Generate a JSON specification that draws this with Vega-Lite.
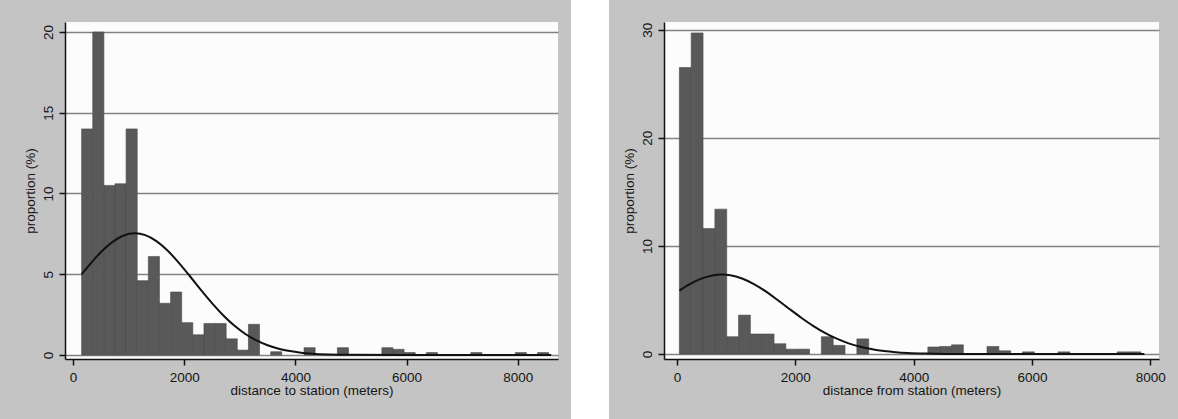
{
  "$schema": "https://vega.github.io/schema/vega-lite/v6.json",
  "background": "#c4c4c4",
  "padding": {"left": 22, "right": 15, "top": 0, "bottom": 0},
  "spacing": 13,
  "center": true,
  "config": {
    "font": "Liberation Sans",
    "axis": {
      "labelFont": "Liberation Sans", "titleFont": "Liberation Sans",
      "labelFontSize": 13.5, "titleFontSize": 13.5, "titleFontWeight": "normal",
      "labelColor": "#151515", "titleColor": "#151515",
      "domainColor": "#111", "domainWidth": 1.5, "tickColor": "#111", "tickWidth": 1.5
    }
  },
  "datasets": {
    "leftBars": [
      {"x0": 155, "x1": 355, "pct": 14},
      {"x0": 355, "x1": 555, "pct": 20},
      {"x0": 555, "x1": 755, "pct": 10.5},
      {"x0": 755, "x1": 955, "pct": 10.6},
      {"x0": 955, "x1": 1155, "pct": 14},
      {"x0": 1155, "x1": 1355, "pct": 4.6},
      {"x0": 1355, "x1": 1555, "pct": 6.1},
      {"x0": 1555, "x1": 1755, "pct": 3.2},
      {"x0": 1755, "x1": 1955, "pct": 3.9},
      {"x0": 1955, "x1": 2155, "pct": 2.0},
      {"x0": 2155, "x1": 2355, "pct": 1.25},
      {"x0": 2355, "x1": 2555, "pct": 1.95},
      {"x0": 2555, "x1": 2755, "pct": 1.95},
      {"x0": 2755, "x1": 2955, "pct": 1.0},
      {"x0": 2955, "x1": 3155, "pct": 0.3},
      {"x0": 3155, "x1": 3355, "pct": 1.9},
      {"x0": 3555, "x1": 3755, "pct": 0.2},
      {"x0": 4155, "x1": 4355, "pct": 0.45},
      {"x0": 4755, "x1": 4955, "pct": 0.45},
      {"x0": 5555, "x1": 5755, "pct": 0.45},
      {"x0": 5755, "x1": 5955, "pct": 0.35},
      {"x0": 5955, "x1": 6155, "pct": 0.15},
      {"x0": 6355, "x1": 6555, "pct": 0.15},
      {"x0": 7155, "x1": 7355, "pct": 0.15},
      {"x0": 7955, "x1": 8155, "pct": 0.15},
      {"x0": 8355, "x1": 8555, "pct": 0.15}
    ],
    "leftCurve": [
      {"x": 155, "pct": 5.0},
      {"x": 300, "pct": 5.6},
      {"x": 500, "pct": 6.36},
      {"x": 700, "pct": 6.97},
      {"x": 900, "pct": 7.38},
      {"x": 1115, "pct": 7.53},
      {"x": 1300, "pct": 7.42},
      {"x": 1500, "pct": 7.05},
      {"x": 1700, "pct": 6.47},
      {"x": 1900, "pct": 5.72},
      {"x": 2100, "pct": 4.89},
      {"x": 2300, "pct": 4.03},
      {"x": 2500, "pct": 3.21},
      {"x": 2700, "pct": 2.46},
      {"x": 2900, "pct": 1.82},
      {"x": 3100, "pct": 1.3},
      {"x": 3300, "pct": 0.9},
      {"x": 3500, "pct": 0.6},
      {"x": 3700, "pct": 0.385},
      {"x": 3900, "pct": 0.239},
      {"x": 4100, "pct": 0.143},
      {"x": 4300, "pct": 0.082},
      {"x": 4600, "pct": 0.034},
      {"x": 5000, "pct": 0.009},
      {"x": 6000, "pct": 0.0},
      {"x": 8600, "pct": 0.0}
    ],
    "rightBars": [
      {"x0": 40, "x1": 240, "pct": 26.5},
      {"x0": 240, "x1": 440, "pct": 29.7},
      {"x0": 440, "x1": 640, "pct": 11.6},
      {"x0": 640, "x1": 840, "pct": 13.4},
      {"x0": 840, "x1": 1040, "pct": 1.6},
      {"x0": 1040, "x1": 1240, "pct": 3.6},
      {"x0": 1240, "x1": 1440, "pct": 1.85},
      {"x0": 1440, "x1": 1640, "pct": 1.85},
      {"x0": 1640, "x1": 1840, "pct": 0.95},
      {"x0": 1840, "x1": 2040, "pct": 0.45},
      {"x0": 2040, "x1": 2240, "pct": 0.45},
      {"x0": 2440, "x1": 2640, "pct": 1.6},
      {"x0": 2640, "x1": 2840, "pct": 0.8},
      {"x0": 3040, "x1": 3240, "pct": 1.4},
      {"x0": 4240, "x1": 4440, "pct": 0.65},
      {"x0": 4440, "x1": 4640, "pct": 0.7},
      {"x0": 4640, "x1": 4840, "pct": 0.85},
      {"x0": 5240, "x1": 5440, "pct": 0.7},
      {"x0": 5440, "x1": 5640, "pct": 0.3},
      {"x0": 5840, "x1": 6040, "pct": 0.2},
      {"x0": 6440, "x1": 6640, "pct": 0.2},
      {"x0": 7440, "x1": 7640, "pct": 0.2},
      {"x0": 7640, "x1": 7840, "pct": 0.2}
    ],
    "rightCurve": [
      {"x": 40, "pct": 5.86},
      {"x": 200, "pct": 6.41},
      {"x": 400, "pct": 6.95},
      {"x": 600, "pct": 7.27},
      {"x": 760, "pct": 7.35},
      {"x": 900, "pct": 7.29},
      {"x": 1100, "pct": 6.99},
      {"x": 1300, "pct": 6.47},
      {"x": 1500, "pct": 5.79},
      {"x": 1700, "pct": 5.0},
      {"x": 1900, "pct": 4.17},
      {"x": 2100, "pct": 3.36},
      {"x": 2300, "pct": 2.61},
      {"x": 2500, "pct": 1.96},
      {"x": 2700, "pct": 1.42},
      {"x": 2900, "pct": 0.99},
      {"x": 3100, "pct": 0.67},
      {"x": 3300, "pct": 0.44},
      {"x": 3500, "pct": 0.277},
      {"x": 3700, "pct": 0.169},
      {"x": 3900, "pct": 0.099},
      {"x": 4200, "pct": 0.042},
      {"x": 4600, "pct": 0.012},
      {"x": 5000, "pct": 0.003},
      {"x": 6000, "pct": 0.0},
      {"x": 7900, "pct": 0.0}
    ]
  },
  "hconcat": [
    {
      "width": 493,
      "height": 337,
      "view": {"fill": "#fcfcfc", "stroke": null},
      "layer": [
        {
          "data": {"name": "leftBars"},
          "mark": {"type": "rect", "fill": "#595959", "stroke": "#4a4a4a", "strokeWidth": 0.6},
          "encoding": {
            "x": {"field": "x0", "type": "quantitative",
              "scale": {"domain": [-144, 8723], "nice": false, "zero": false},
              "axis": {"title": "distance to station (meters)", "values": [0, 2000, 4000, 6000, 8000], "format": "d", "grid": false, "tickSize": 6, "labelPadding": 5, "titlePadding": 0, "labelFlush": false}},
            "x2": {"field": "x1"},
            "y": {"field": "pct", "type": "quantitative",
              "scale": {"domain": [-0.25, 20.62], "nice": false, "zero": false},
              "axis": {"title": "proportion (%)", "values": [0, 5, 10, 15, 20], "labelAngle": 270, "labelAlign": "center", "labelBaseline": "bottom", "tickSize": 6, "labelPadding": 4, "titlePadding": 4, "grid": true, "gridColor": "#828282", "gridWidth": 1.5}},
            "y2": {"datum": 0}
          }
        },
        {
          "data": {"name": "leftCurve"},
          "mark": {"type": "line", "color": "#111", "strokeWidth": 2, "interpolate": "monotone"},
          "encoding": {
            "x": {"field": "x", "type": "quantitative"},
            "y": {"field": "pct", "type": "quantitative"}
          }
        }
      ]
    },
    {
      "width": 38,
      "height": 419,
      "view": {"fill": "white", "stroke": null},
      "data": {"values": []},
      "mark": "rect",
      "encoding": {}
    },
    {
      "width": 495,
      "height": 337,
      "view": {"fill": "#fcfcfc", "stroke": null},
      "layer": [
        {
          "data": {"name": "rightBars"},
          "mark": {"type": "rect", "fill": "#595959", "stroke": "#4a4a4a", "strokeWidth": 0.6},
          "encoding": {
            "x": {"field": "x0", "type": "quantitative",
              "scale": {"domain": [-220, 8147], "nice": false, "zero": false},
              "axis": {"title": "distance from station (meters)", "values": [0, 2000, 4000, 6000, 8000], "format": "d", "grid": false, "tickSize": 6, "labelPadding": 5, "titlePadding": 0, "labelFlush": false}},
            "x2": {"field": "x1"},
            "y": {"field": "pct", "type": "quantitative",
              "scale": {"domain": [-0.46, 30.71], "nice": false, "zero": false},
              "axis": {"title": "proportion (%)", "values": [0, 10, 20, 30], "labelAngle": 270, "labelAlign": "center", "labelBaseline": "bottom", "tickSize": 6, "labelPadding": 4, "titlePadding": 4, "grid": true, "gridColor": "#828282", "gridWidth": 1.5}},
            "y2": {"datum": 0}
          }
        },
        {
          "data": {"name": "rightCurve"},
          "mark": {"type": "line", "color": "#111", "strokeWidth": 2, "interpolate": "monotone"},
          "encoding": {
            "x": {"field": "x", "type": "quantitative"},
            "y": {"field": "pct", "type": "quantitative"}
          }
        }
      ]
    }
  ]
}
